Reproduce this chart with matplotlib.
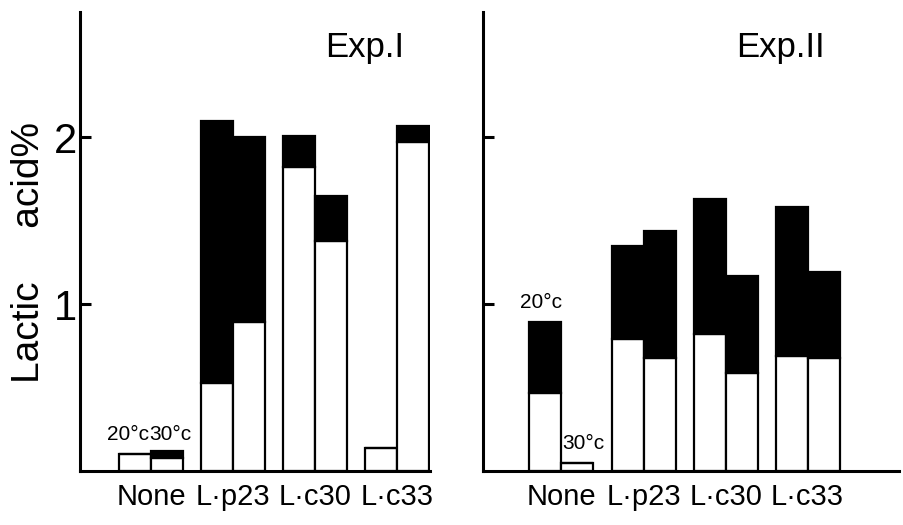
import numpy as np
import matplotlib
matplotlib.use("Agg")
import matplotlib.pyplot as plt

plt.rcParams['font.family'] = ['Liberation Sans', 'DejaVu Sans']

groups = ["None", "L·p23", "L·c30", "L·c33"]

# Exp. I  (20 C bar, 30 C bar): white part and total height
exp1_white_20 = [0.10, 0.53, 1.82, 0.14]
exp1_total_20 = [0.10, 2.10, 2.01, 0.14]
exp1_white_30 = [0.08, 0.89, 1.38, 1.97]
exp1_total_30 = [0.12, 2.00, 1.65, 2.07]

# Exp. II
exp2_white_20 = [0.47, 0.79, 0.82, 0.69]
exp2_total_20 = [0.89, 1.35, 1.63, 1.58]
exp2_white_30 = [0.05, 0.68, 0.59, 0.68]
exp2_total_30 = [0.05, 1.44, 1.17, 1.19]

fig = plt.figure(figsize=(9.04, 5.25), dpi=100)
ax1 = fig.add_axes([0.0885, 0.1029, 0.387, 0.874])
ax2 = fig.add_axes([0.534, 0.1029, 0.461, 0.874])

x = np.arange(len(groups))
w = 0.39


def draw(ax, w20, t20, w30, t30):
    for xs, wh, tot in [(x - w / 2, w20, t20), (x + w / 2, w30, t30)]:
        wh = np.array(wh)
        tot = np.array(tot)
        ax.bar(xs, wh, w, color="white", edgecolor="black", linewidth=1.6)
        ax.bar(xs, tot - wh, w, bottom=wh, color="black", edgecolor="black", linewidth=1.6)
    ax.set_ylim(0, 2.75)
    for s in ["top", "right"]:
        ax.spines[s].set_visible(False)
    for s in ["left", "bottom"]:
        ax.spines[s].set_linewidth(2.2)
    ax.set_xticks(x)
    ax.set_xticklabels(groups, fontsize=21)
    ax.tick_params(axis="x", length=0, pad=9)
    ax.set_yticks([1, 2])
    ax.tick_params(axis="y", direction="in", length=8, width=2.2, labelsize=30, pad=2)


draw(ax1, exp1_white_20, exp1_total_20, exp1_white_30, exp1_total_30)
draw(ax2, exp2_white_20, exp2_total_20, exp2_white_30, exp2_total_30)

ax1.set_xlim(-0.866, 3.40)
ax2.set_xlim(-0.96, 4.12)
ax2.set_yticklabels([])

ax1.text(0.70, 0.924, "Exp.I", transform=ax1.transAxes, fontsize=25, va="center")
ax2.text(0.609, 0.924, "Exp.II", transform=ax2.transAxes, fontsize=25, va="center")

ax1.set_ylabel("Lactic     acid%", fontsize=28)
ax1.yaxis.set_label_coords(-0.095, 0.477)

ax1.text(-w / 2 - 0.08, 0.16, "20°c", ha="center", va="bottom", fontsize=15)
ax1.text(w / 2 + 0.04, 0.16, "30°c", ha="center", va="bottom", fontsize=15)
ax2.text(-w / 2 - 0.05, 0.95, "20°c", ha="center", va="bottom", fontsize=15)
ax2.text(w / 2 + 0.07, 0.11, "30°c", ha="center", va="bottom", fontsize=15)

fig.savefig("out.png", dpi=100)
